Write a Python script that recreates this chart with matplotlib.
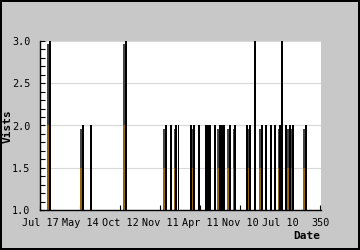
import matplotlib
matplotlib.use("Agg")
import matplotlib.pyplot as plt
from matplotlib.ticker import MultipleLocator

# Black impulse bars: position (rank) and visits
bar_x = [12.5, 53.75, 63.75, 107.5, 157, 164, 170, 173, 189, 192.5, 199,
         207.5, 210, 212.5, 219, 225, 227.5, 230, 237, 244, 259, 262.5,
         269, 277.5, 282.5, 289, 294, 300, 302.5, 307.5, 312.5, 316, 332.5]
bar_v = [3, 2, 2, 3, 2, 2, 2, 2, 2, 2, 2,
         2, 2, 2, 2, 2, 2, 2, 2, 2, 2, 2,
         3, 2, 2, 2, 2, 2, 3, 2, 2, 2, 2]

# Shaded (orange/grey) companion bars
shade_x = [10.0, 51.3, 105.0, 155.0, 168.2, 190.7, 221.9, 235.0, 241.9,
           259.4, 275.4, 282.4, 298.2, 310.0, 313.8, 330.0]
shade_v = [3, 2, 3, 2, 2, 2, 2, 2, 2, 2, 2, 2, 2, 2, 2, 2]

tick_pos = [0, 50, 100, 150, 200, 250, 300, 350]
tick_labels = ["Jul 17", "May 14", "Oct 12", "Nov 11", "Apr 11", "Nov 10", "Jul 10", "350"]

base = 1.0
mono = "DejaVu Sans Mono"

fig = plt.figure(figsize=(3.6, 2.5), dpi=100, facecolor="#c8c8c8",
                 edgecolor="black", linewidth=1.5)
ax = fig.add_axes([40/360, 40/250, 281/360, 169/250])
ax.set_facecolor("white")

# shaded bars: orange lower half, dark grey upper half
low = [(v - base) / 2 for v in shade_v]
up = [(v - base) / 2 - 0.04 for v in shade_v]
ax.bar(shade_x, low, bottom=base, width=2.6, color="#94640e", linewidth=0, zorder=2)
ax.bar(shade_x, up, bottom=[base + l for l in low], width=2.6, color="#454545",
       linewidth=0, zorder=2)
ax.bar(bar_x, [v - base for v in bar_v], bottom=base, width=2.4, color="black",
       linewidth=0, zorder=3)

ax.set_xlim(0, 351)
ax.set_ylim(1.0, 3.0)
ax.set_xticks(tick_pos)
ax.set_xticklabels(tick_labels, fontfamily=mono, fontsize=7.3)
ax.yaxis.set_major_locator(MultipleLocator(0.5))
ax.yaxis.set_minor_locator(MultipleLocator(0.1))
ax.set_yticks([1.0, 1.5, 2.0, 2.5, 3.0])
ax.set_yticklabels(["1.0", "1.5", "2.0", "2.5", "3.0"], fontfamily=mono, fontsize=7.3)
ax.tick_params(axis="both", which="both", direction="in", length=3.5, width=0.8,
               colors="black", pad=6)
ax.tick_params(axis="y", which="major", pad=7)
ax.grid(axis="y", which="major", color="#d8d8d8", linewidth=0.8, zorder=0)
ax.set_axisbelow(True)

for s in ["top", "right"]:
    ax.spines[s].set_visible(False)
for s in ["left", "bottom"]:
    ax.spines[s].set_color("black")
    ax.spines[s].set_linewidth(1.0)

fig.text(8/360, 1 - 126/250, "Vists", rotation=90, ha="center", va="center",
         fontfamily=mono, fontweight="bold", fontsize=8)
fig.text(320/360, 1 - 236/250, "Date", ha="right", va="center",
         fontfamily=mono, fontweight="bold", fontsize=8)

fig.savefig("out.png", dpi=100, facecolor=fig.get_facecolor(), edgecolor="black")
